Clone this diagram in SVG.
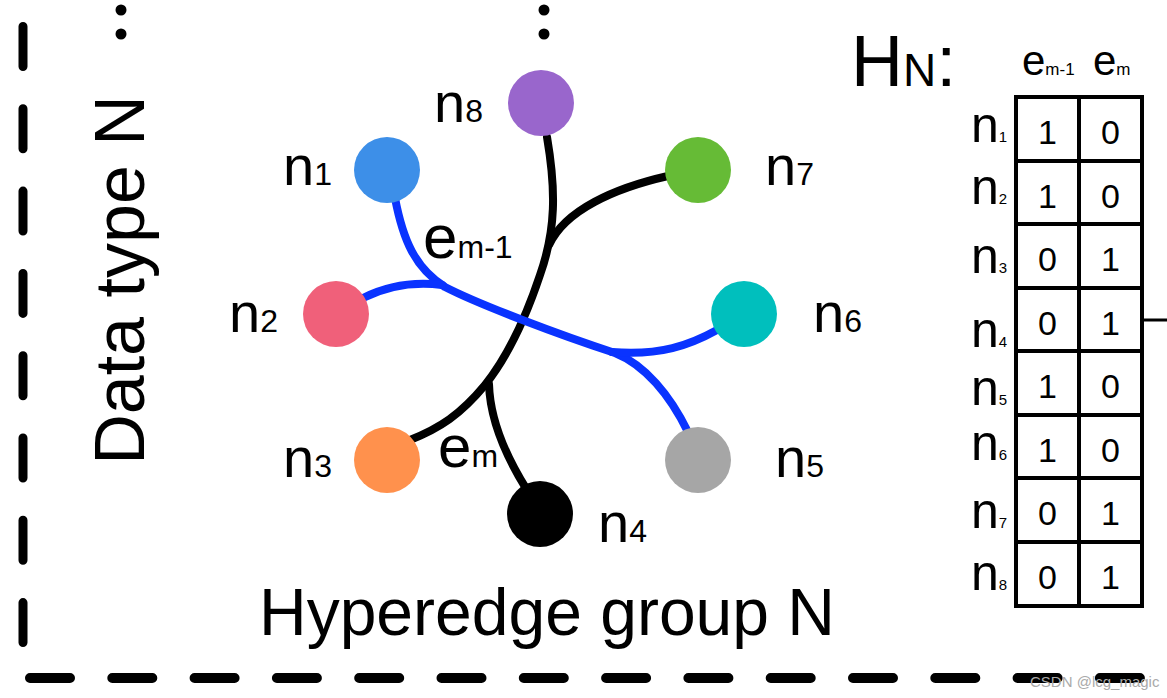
<svg xmlns="http://www.w3.org/2000/svg" width="1167" height="698" viewBox="0 0 1167 698">
<style>
text{font-family:"Liberation Sans",Arial,sans-serif;fill:#000}
.nl{font-size:56px}
.sb{font-size:32px}
.big{font-size:66px}
.edge{fill:none;stroke-width:8;stroke-linecap:round}
.blk{stroke:#000}
.blu{stroke:#0a33ff}
.dash{fill:none;stroke:#000;stroke-linecap:round;stroke-dasharray:40 42.3}
.tl{fill:none;stroke:#000;stroke-width:4}
.rn{font-size:50px}
.rs{font-size:15px}
.cv{font-size:34px;text-anchor:middle}
</style>
<rect width="1167" height="698" fill="#fff"/>

<g id="border">
<path class="dash" d="M23 26.5 V645" stroke-width="9"/>
<path class="dash" d="M30 678 H1150" stroke-width="10"/>
</g>

<g id="ellipsis">
<circle cx="121" cy="10" r="5.5"/>
<circle cx="121" cy="34" r="5.5"/>
<circle cx="544" cy="10" r="5.5"/>
<circle cx="544" cy="34" r="5.5"/>
</g>

<g id="connectors">
<path class="edge blk" d="M547 137 C556 190 556 230 540 275 C525 320 505 360 485 385 C460 415 440 428 410 440"/>
<path class="edge blk" d="M668 176 C615 188 565 210 549 245"/>
<path class="edge blk" d="M489 384 C490 420 505 455 527 490"/>
<path class="edge blu" d="M395 198 C403 240 415 268 445 287 C480 305 560 335 615 353 C645 365 670 395 688 432"/>
<path class="edge blu" d="M363 298 C385 287 410 281 442 285"/>
<path class="edge blu" d="M717 330 C690 345 660 356 612 352"/>
</g>

<g id="node-n8"><circle cx="541" cy="103" r="33" fill="#9966cc"/><text x="434" y="122" class="nl">n<tspan class="sb">8</tspan></text></g>
<g id="node-n1"><circle cx="387" cy="170" r="33" fill="#3d8fe8"/><text x="283" y="185" class="nl">n<tspan class="sb">1</tspan></text></g>
<g id="node-n7"><circle cx="698" cy="170" r="33" fill="#66bb36"/><text x="765" y="185" class="nl">n<tspan class="sb">7</tspan></text></g>
<g id="node-n2"><circle cx="336" cy="314" r="33" fill="#f0607a"/><text x="229" y="332" class="nl">n<tspan class="sb">2</tspan></text></g>
<g id="node-n6"><circle cx="744" cy="314" r="33" fill="#00bfbd"/><text x="813" y="332" class="nl">n<tspan class="sb">6</tspan></text></g>
<g id="node-n3"><circle cx="387" cy="460" r="33" fill="#ff914d"/><text x="283" y="477" class="nl">n<tspan class="sb">3</tspan></text></g>
<g id="node-n5"><circle cx="698" cy="460" r="33" fill="#a6a6a6"/><text x="775" y="477" class="nl">n<tspan class="sb">5</tspan></text></g>
<g id="node-n4"><circle cx="540" cy="514" r="33" fill="#000"/><text x="598" y="542" class="nl">n<tspan class="sb">4</tspan></text></g>

<g id="edge-labels">
<text x="423" y="258" font-size="62">e<tspan class="sb">m-1</tspan></text>
<text x="438" y="467" font-size="60">e<tspan class="sb">m</tspan></text>
</g>

<g id="titles">
<text transform="translate(144,280) rotate(-90)" text-anchor="middle" font-size="70">Data type N</text>
<text x="547" y="635" text-anchor="middle" class="big">Hyperedge group N</text>
</g>

<g id="matrix">
<text x="851" y="86" font-size="72">H<tspan font-size="46">N</tspan>:</text>
<text x="1022" y="75" font-size="42">e<tspan font-size="17">m-1</tspan></text>
<text x="1093" y="75" font-size="42">e<tspan font-size="17">m</tspan></text>
<rect x="1016" y="97" width="126" height="509" class="tl"/>
<path class="tl" d="M1079 97 V606 M1016 161 H1142 M1016 224 H1142 M1016 288 H1142 M1016 351 H1142 M1016 415 H1142 M1016 478 H1142 M1016 542 H1142"/>
<path d="M1142 320 H1167" stroke="#000" stroke-width="3"/>
<text x="971" y="142" class="rn">n<tspan class="rs">1</tspan></text>
<text x="971" y="204" class="rn">n<tspan class="rs">2</tspan></text>
<text x="971" y="273" class="rn">n<tspan class="rs">3</tspan></text>
<text x="971" y="347" class="rn">n<tspan class="rs">4</tspan></text>
<text x="971" y="405" class="rn">n<tspan class="rs">5</tspan></text>
<text x="971" y="460" class="rn">n<tspan class="rs">6</tspan></text>
<text x="971" y="528" class="rn">n<tspan class="rs">7</tspan></text>
<text x="971" y="590" class="rn">n<tspan class="rs">8</tspan></text>
<g class="cells">
<text x="1047.5" y="144" class="cv">1</text><text x="1110.5" y="144" class="cv">0</text>
<text x="1047.5" y="208" class="cv">1</text><text x="1110.5" y="208" class="cv">0</text>
<text x="1047.5" y="271" class="cv">0</text><text x="1110.5" y="271" class="cv">1</text>
<text x="1047.5" y="335" class="cv">0</text><text x="1110.5" y="335" class="cv">1</text>
<text x="1047.5" y="398" class="cv">1</text><text x="1110.5" y="398" class="cv">0</text>
<text x="1047.5" y="462" class="cv">1</text><text x="1110.5" y="462" class="cv">0</text>
<text x="1047.5" y="525" class="cv">0</text><text x="1110.5" y="525" class="cv">1</text>
<text x="1047.5" y="589" class="cv">0</text><text x="1110.5" y="589" class="cv">1</text>
</g>
</g>

<text x="1030" y="687" font-size="15" fill="#aaa" style="fill:#aaa">CSDN @lcg_magic</text>
</svg>
